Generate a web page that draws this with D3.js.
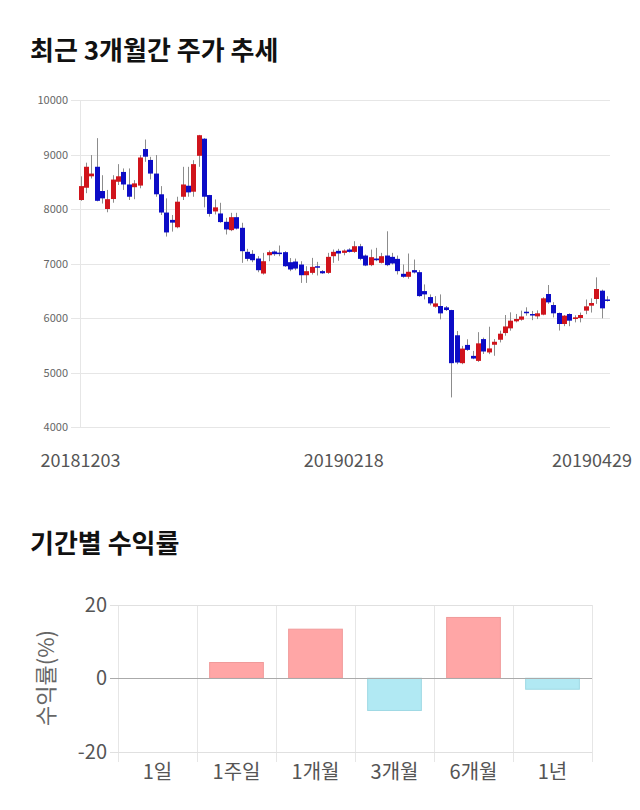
<!DOCTYPE html>
<html><head><meta charset="utf-8">
<script src="https://cdn.jsdelivr.net/npm/d3@7"></script>
<style>body{margin:0;background:#fff}svg{display:block}</style>
</head><body>
<script>
const dates = ["20181203","20181204","20181205","20181206","20181207","20181210","20181211","20181212","20181213","20181214","20181217","20181218","20181219","20181220","20181221","20181224","20181226","20181227","20181228",
"20190102","20190103","20190104","20190107","20190108","20190109","20190110","20190111","20190114","20190115","20190116","20190117","20190118","20190121","20190122","20190123","20190124","20190125","20190128","20190129","20190130","20190131",
"20190201","20190207","20190208","20190211","20190212","20190213","20190214","20190215","20190218","20190219","20190220","20190221","20190222","20190225","20190226","20190227","20190228",
"20190304","20190305","20190306","20190307","20190308","20190311","20190312","20190313","20190314","20190315","20190318","20190319","20190320","20190321","20190322","20190325","20190326","20190327","20190328","20190329",
"20190401","20190402","20190403","20190404","20190405","20190408","20190409","20190410","20190411","20190412","20190415","20190416","20190417","20190418","20190419","20190422","20190423","20190424","20190425","20190426","20190429"];
const opens  = [8165,8390,8600,8775,8330,8000,8183,8500,8680,8450,8400,8430,9100,8900,8650,8270,7935,7800,7665,8225,8427,8317,8976,9290,8256,7955,7918,7765,7612,7850,7655,7214,7177,7091,6816,7152,7220,7200,7208,7024,7036,6981,6785,6828,6950,6860,6828,7134,7232,7195,7256,7213,7317,7146,6970,7091,7012,7146,7122,7085,6811,6756,6878,6841,6494,6384,6207,6220,6195,6146,5683,5171,5506,5305,5213,5613,5368,5509,5601,5724,5810,5939,5969,6115,6073,6030,6061,6440,6238,6092,5890,6073,5982,6000,6135,6226,6349,6501,6340];
const highs  = [8600,8850,8990,9300,8620,8350,8620,8823,8744,8744,8530,8990,9275,8957,8990,8420,8195,7890,8225,8774,8774,8896,9360,9300,8260,8175,8114,7838,7930,7930,7747,7269,7245,7134,7195,7238,7240,7330,7226,7100,7090,7042,6950,7103,7030,6880,7195,7257,7269,7260,7280,7409,7360,7165,7256,7287,7195,7591,7195,7146,6982,7183,7073,6878,6616,6433,6402,6433,6220,6150,5762,5488,5610,5396,5740,5640,5840,5613,5767,6055,6104,6074,6135,6196,6130,6140,6380,6605,6290,6100,6055,6085,6050,6100,6340,6360,6746,6520,6400];
const lows   = [8150,8290,8560,8140,8100,7940,8115,8440,8350,8165,8180,8380,8866,8543,8225,7890,7494,7585,7646,8165,8225,8225,8774,8030,7860,7900,7747,7532,7594,7624,7012,7042,7024,6840,6797,7042,7140,7134,6938,6859,6877,6644,6644,6797,6780,6810,6810,7012,7050,7150,7200,7195,7060,6951,6951,7043,7000,6951,6982,6799,6738,6720,6817,6390,6341,6232,6189,5975,6128,4543,5152,5152,5396,5244,5195,5340,5337,5307,5552,5675,5767,5920,5951,6043,5960,5980,6050,6260,6010,5770,5850,5850,5920,5920,6070,6100,6260,5994,6300];
const closes = [8420,8775,8650,8150,8195,8180,8540,8600,8450,8225,8470,8945,8960,8650,8270,7935,7570,7750,8134,8450,8305,8823,9354,8225,7910,8030,7760,7625,7850,7640,7226,7085,7060,6877,7042,7208,7171,7190,6950,6890,6907,6785,6859,6938,6940,6820,7122,7214,7183,7238,7213,7317,7085,6963,7116,7060,7134,6970,7000,6860,6756,6848,6835,6402,6433,6268,6268,6085,6146,5171,5183,5439,5415,5256,5535,5385,5442,5564,5712,5845,5951,5982,6028,6090,6060,6086,6361,6287,6086,5890,6043,5951,6012,6055,6214,6275,6532,6177,6320];
const priceTicks = [4000,5000,6000,7000,8000,9000,10000];
const dateLabels = ["20181203","20190218","20190429"];

const periods = ["1일","1주일","1개월","3개월","6개월","1년"];
const returns = [0,4.3,13.4,-8.8,16.6,-3.0];
const returnTicks = [-20,0,20];

const FONT = "'Noto Sans CJK KR','Noto Sans',sans-serif";
const W = 640, H = 810;
const svg = d3.select("body").append("svg").attr("width",W).attr("height",H).style("font-family",FONT);
svg.append("rect").attr("width",W).attr("height",H).attr("fill","#fff");

// Titles
svg.append("text").attr("x",30).attr("y",60).attr("font-size",26).attr("font-weight","bold").attr("fill","#111").text("최근 3개월간 주가 추세");
svg.append("text").attr("x",30).attr("y",553).attr("font-size",26).attr("font-weight","bold").attr("fill","#111").text("기간별 수익률");

// ---- Candlestick chart ----
const cx = d3.scalePoint().domain(dates).range([80.5, 607]);
const cy = d3.scaleLinear().domain([4000,10000]).range([427,100]);
const g1 = svg.append("g");
g1.selectAll("line.grid").data(priceTicks).join("line")
  .attr("x1",71).attr("x2",610).attr("y1",d=>Math.round(cy(d))+0.5).attr("y2",d=>Math.round(cy(d))+0.5)
  .attr("stroke","#e6e6e6").attr("stroke-width",1);
g1.append("line").attr("x1",80.5).attr("x2",80.5).attr("y1",cy(10000)).attr("y2",cy(4000)).attr("stroke","#e6e6e6");
g1.selectAll("text.yt").data(priceTicks).join("text")
  .attr("x",68).attr("y",d=>cy(d)+4).attr("text-anchor","end").attr("font-size",11).attr("fill","#666").text(d=>d);

const idx = d3.range(dates.length);
g1.selectAll("line.wick").data(idx).join("line")
  .attr("x1",i=>Math.round(cx(dates[i]))+0.5).attr("x2",i=>Math.round(cx(dates[i]))+0.5)
  .attr("y1",i=>cy(highs[i])).attr("y2",i=>cy(lows[i])).attr("stroke","#8c8c8c").attr("stroke-width",1);
g1.selectAll("rect.body").data(idx).join("rect")
  .attr("x",i=>Math.round(cx(dates[i]))-2).attr("width",5)
  .attr("y",i=>cy(Math.max(opens[i],closes[i])))
  .attr("height",i=>Math.max(1.5,Math.abs(cy(opens[i])-cy(closes[i]))))
  .attr("fill",i=>closes[i]>=opens[i]?"#d0141c":"#0c0cc6");

const dl = g1.selectAll("text.xl").data(dateLabels).join("text")
  .attr("x",d=>cx(d)).attr("y",467).attr("text-anchor","middle").attr("font-size",18).attr("fill","#555").text(d=>d);
dl.each(function(){ const b=this.getBBox(); if(b.x+b.width>632){ d3.select(this).attr("x",+d3.select(this).attr("x")-(b.x+b.width-632)); }});

// ---- Returns bar chart ----
const bx = d3.scaleBand().domain(periods).range([118,592]).padding(0);
const by = d3.scaleLinear().domain([-20,20]).range([751.5,605]);
const g2 = svg.append("g");
const vx = periods.map(p=>bx(p)).concat([bx.range()[1]]);
g2.selectAll("line.vg").data(vx).join("line")
  .attr("x1",d=>Math.round(d)+0.5).attr("x2",d=>Math.round(d)+0.5).attr("y1",by(20)).attr("y2",762)
  .attr("stroke","#e6e6e6");
g2.selectAll("line.hg").data(returnTicks).join("line")
  .attr("x1",110).attr("x2",592).attr("y1",d=>Math.round(by(d))+0.5).attr("y2",d=>Math.round(by(d))+0.5)
  .attr("stroke",d=>d===0?"#bbb":"#e0e0e0");
g2.selectAll("text.yt").data(returnTicks).join("text")
  .attr("x",107).attr("y",d=>by(d)+7).attr("text-anchor","end").attr("font-size",20).attr("fill","#555").text(d=>d);
const bw = bx.bandwidth()*0.68;
g2.selectAll("rect.bar").data(periods.map((p,i)=>({p,v:returns[i]})).filter(d=>d.v!==0)).join("rect")
  .attr("x",d=>bx(d.p)+(bx.bandwidth()-bw)/2).attr("width",bw)
  .attr("y",d=>by(Math.max(0,d.v))).attr("height",d=>Math.abs(by(d.v)-by(0)))
  .attr("fill",d=>d.v>0?"#ffa6a6":"#b1e9f3").attr("stroke",d=>d.v>0?"#f09a9a":"#9fd9e4").attr("stroke-width",1);
g2.append("line").attr("x1",110).attr("x2",592).attr("y1",Math.round(by(0))+0.5).attr("y2",Math.round(by(0))+0.5).attr("stroke","#aaa");
g2.selectAll("text.xl").data(periods).join("text")
  .attr("x",d=>bx(d)+bx.bandwidth()/2).attr("y",779).attr("text-anchor","middle").attr("font-size",20).attr("fill","#555").text(d=>d);
g2.append("text").attr("transform","translate(54,678) rotate(-90)").attr("text-anchor","middle")
  .attr("font-size",22).attr("fill","#666").text("수익률(%)");
</script>
</body></html>
